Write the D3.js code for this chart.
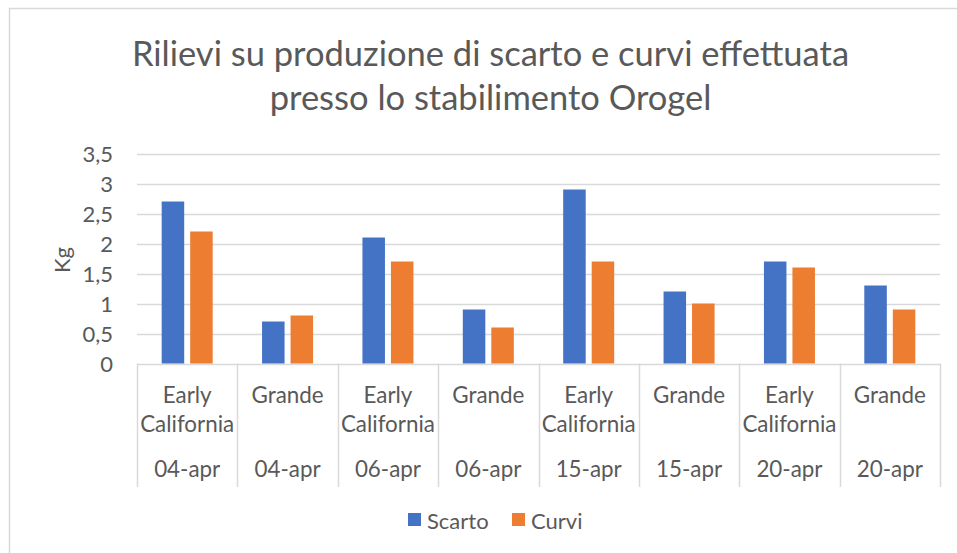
<!DOCTYPE html>
<html>
<head>
<meta charset="utf-8">
<script src="https://cdn.jsdelivr.net/npm/d3@7"></script>
<style>
  html, body { margin: 0; padding: 0; background: #fff; }
  svg { display: block; }
  text { font-family: Lato, "Open Sans", sans-serif; fill: #595959; }
</style>
</head>
<body>
<svg id="chart" width="957" height="553"></svg>
<script>
// ---- data ----
const varieties = ["Early California", "Grande", "Early California", "Grande", "Early California", "Grande", "Early California", "Grande"];
const dates = ["04-apr", "04-apr", "06-apr", "06-apr", "15-apr", "15-apr", "20-apr", "20-apr"];
const seriesNames = ["Scarto", "Curvi"];
const scarto = [2.7, 0.7, 2.1, 0.9, 2.9, 1.2, 1.7, 1.3];
const curvi = [2.2, 0.8, 1.7, 0.6, 1.7, 1.0, 1.6, 0.9];
const yTicks = [0, 0.5, 1, 1.5, 2, 2.5, 3, 3.5];
const colors = ["#4472C4", "#ED7D31"];
const titleLines = ["Rilievi su produzione di scarto e curvi effettuata", "presso lo stabilimento Orogel"];
const yTitle = "Kg";

const svg = d3.select("#chart");

// chart border
svg.append("rect").attr("x", 9.5).attr("y", 8.5).attr("width", 960).attr("height", 560)
  .attr("fill", "#fff").attr("stroke", "#d9d9d9").attr("stroke-width", 1.5);

const plot = { left: 137, right: 940, top: 153.5, bottom: 363.5 };
const idx = d3.range(varieties.length);

const x = d3.scaleBand().domain(idx).range([plot.left, plot.right]).paddingInner(0).paddingOuter(0);
const xs = d3.scaleBand().domain(seriesNames).range([0, x.bandwidth()]).paddingInner(0.21).paddingOuter(0.866);
const y = d3.scaleLinear().domain([0, 3.5]).range([plot.bottom, plot.top]);

// gridlines
svg.append("g").selectAll("line").data(yTicks).join("line")
  .attr("x1", plot.left).attr("x2", plot.right)
  .attr("y1", d => Math.round(y(d)) + 0.5).attr("y2", d => Math.round(y(d)) + 0.5)
  .attr("stroke", "#d9d9d9").attr("stroke-width", 1.5);

// y axis labels
const fmt = d => String(d).replace(".", ",");
svg.append("g").selectAll("text").data(yTicks).join("text")
  .attr("x", 113).attr("y", d => y(d) + 8)
  .attr("text-anchor", "end").attr("font-size", 22)
  .text(fmt);

// y title
svg.append("text").attr("transform", "translate(70,260) rotate(-90)")
  .attr("text-anchor", "middle").attr("font-size", 22).text(yTitle);

// category boundary ticks
const bounds = idx.map(i => x(i)).concat([x(idx.length - 1) + x.bandwidth()]);
svg.append("g").selectAll("line").data(bounds).join("line")
  .attr("x1", d => Math.round(d) + 0.5).attr("x2", d => Math.round(d) + 0.5)
  .attr("y1", plot.bottom).attr("y2", 487)
  .attr("stroke", "#d9d9d9").attr("stroke-width", 1.5);

// bars
const series = [scarto, curvi];
series.forEach((vals, si) => {
  svg.append("g").selectAll("rect").data(vals).join("rect")
    .attr("x", (d, i) => x(i) + xs(seriesNames[si]))
    .attr("width", xs.bandwidth())
    .attr("y", d => y(d))
    .attr("height", d => y(0) - y(d))
    .attr("fill", colors[si]);
});

// category labels
const catG = svg.append("g");
idx.forEach(i => {
  const cx = x(i) + x.bandwidth() / 2;
  const words = varieties[i].split(" ");
  words.forEach((w, k) => {
    catG.append("text").attr("x", cx).attr("y", 403 + k * 29)
      .attr("text-anchor", "middle").attr("font-size", 22.4).text(w);
  });
  catG.append("text").attr("x", cx).attr("y", 477)
    .attr("text-anchor", "middle").attr("font-size", 22.4).text(dates[i]);
});

// title
svg.append("g").selectAll("text").data(titleLines).join("text")
  .attr("x", 490.5).attr("y", (d, i) => 66 + i * 44)
  .attr("text-anchor", "middle").attr("font-size", 34.5).text(d => d);

// legend
const legendX = [408, 512];
const lg = svg.append("g");
seriesNames.forEach((s, i) => {
  lg.append("rect").attr("x", legendX[i]).attr("y", 513).attr("width", 13).attr("height", 13).attr("fill", colors[i]);
  lg.append("text").attr("x", legendX[i] + 19).attr("y", 528.5).attr("font-size", 22).text(s);
});
</script>
</body>
</html>
